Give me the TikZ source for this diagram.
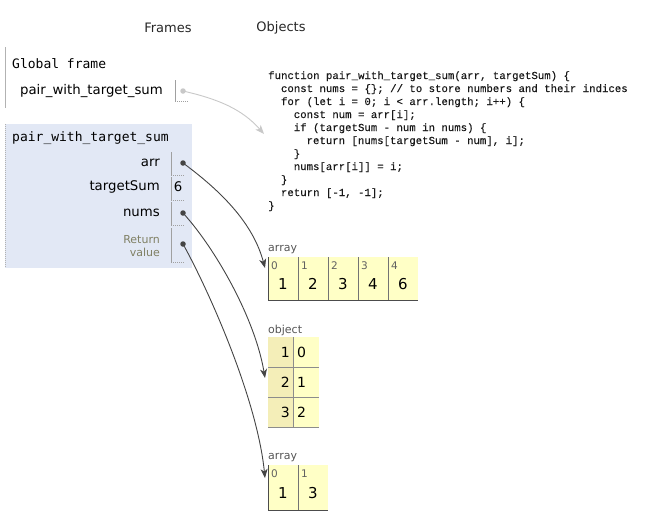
\documentclass[tikz,border=0pt]{standalone}
\usepackage{fontspec}
\setmainfont{DejaVu Sans}
\newfontfamily\framemono{DejaVu Sans Mono}
\newfontfamily\codefont[FakeBold=0.2]{Liberation Mono}
\usetikzlibrary{arrows.meta}
\definecolor{framebg}{RGB}{226,232,245}
\definecolor{heapbg}{RGB}{255,255,198}
\definecolor{keybg}{RGB}{244,238,184}
\definecolor{arrowcol}{RGB}{68,68,68}
\definecolor{lightarrow}{RGB}{200,200,200}
\definecolor{boxline}{RGB}{160,160,160}
\definecolor{retcol}{RGB}{128,128,100}
\definecolor{labelcol}{RGB}{85,85,85}
\definecolor{codecol}{RGB}{25,25,25}
\tikzset{
  hdr/.style={font=\fontsize{13}{15}\selectfont, text=black!85, inner sep=0pt},
  ftitle/.style={font=\framemono\fontsize{13}{15}\selectfont, anchor=west, inner sep=0pt},
  varname/.style={font=\fontsize{13.3}{15}\selectfont, anchor=east, inner sep=0pt},
  codeline/.style={font=\codefont\fontsize{10.7}{13}\selectfont, text=codecol, anchor=base west, inner sep=0pt},
  heaplabel/.style={font=\fontsize{11}{13}\selectfont, text=labelcol, anchor=west, inner sep=0pt},
  idx/.style={font=\fontsize{10.5}{12}\selectfont, text=black!62, anchor=west, inner sep=0pt},
  val/.style={font=\fontsize{15}{17}\selectfont, inner sep=0pt},
  objtxt/.style={font=\fontsize{14}{16}\selectfont, inner sep=0pt},
  ptr/.style={circle, fill=arrowcol, inner sep=0pt, minimum size=5.5pt},
  ptrlight/.style={circle, fill=lightarrow, inner sep=0pt, minimum size=5.5pt},
  conn/.style={draw=arrowcol, line width=0.9pt, -{Stealth[length=9pt,width=7pt,inset=2.5pt]}},
  connlight/.style={draw=lightarrow, line width=0.9pt, -{Stealth[length=9pt,width=7pt,inset=2.5pt]}},
  vbox/.style={draw=boxline, line width=0.8pt},
  vboxb/.style={draw=boxline, line width=0.8pt, dash pattern=on 1pt off 1pt},
  cell/.style={fill=heapbg, draw=none},
  celldiv/.style={draw=black!55, line width=0.8pt},
  celledge/.style={draw=black!70, line width=0.9pt},
}
\begin{document}
\begin{tikzpicture}[x=1pt,y=-1pt]
\useasboundingbox (0,0) rectangle (652,514);

% headers
\node[hdr] (hFrames) at (168,28) {Frames};
\node[hdr] (hObjects) at (281,28) {Objects};

% global frame
\draw[vbox, draw=black!30] (5,47) -- (5,108);
\node[ftitle] (gTitle) at (12,64) {Global frame};
\node[varname] (gVar) at (163,91) {pair\_with\_target\_sum};
\draw[vbox] (175,80) -- (175,101);
\draw[vboxb] (175,101) -- (188,101);
\node[ptrlight] (gDot) at (183,91) {};

% pair_with_target_sum frame
\fill[framebg] (5,124) rectangle (192,268);
\draw[draw=black!30, line width=0.8pt, dash pattern=on 1pt off 1pt] (5,124) -- (5,268);
\node[ftitle] (fTitle) at (12,138) {pair\_with\_target\_sum};

\node[varname] (vArr) at (160,163) {arr};
\draw[vbox] (171,152) -- (171,175);
\draw[vboxb] (171,175) -- (185,175);
\node[ptr] (dArr) at (183,163) {};

\node[varname] (vTarget) at (160,187) {targetSum};
\draw[vbox] (171,177) -- (171,200);
\draw[vboxb] (171,200) -- (185,200);
\node[font=\fontsize{13.3}{15}\selectfont, inner sep=0pt] (vSix) at (178,187) {6};

\node[varname] (vNums) at (160,213) {nums};
\draw[vbox] (171,202) -- (171,225);
\draw[vboxb] (171,225) -- (185,225);
\node[ptr] (dNums) at (183,213) {};

\node[varname, font=\fontsize{11}{13}\selectfont, text=retcol, align=right] (vRet) at (160,246) {Return\\value};
\draw[vbox] (171,228) -- (171,262);
\draw[vboxb] (171,262) -- (185,262);
\node[ptr] (dRet) at (183,244) {};

% code (function object)
\node[codeline] (c1) at (268,79) {function pair\_with\_target\_sum(arr, targetSum) \{};
\node[codeline] (c2) at (280.8,92) {const nums = \{\}; // to store numbers and their indices};
\node[codeline] (c3) at (280.8,105) {for (let i = 0; i < arr.length; i++) \{};
\node[codeline] (c4) at (293.6,118) {const num = arr[i];};
\node[codeline] (c5) at (293.6,131) {if (targetSum - num in nums) \{};
\node[codeline] (c6) at (306.4,144) {return [nums[targetSum - num], i];};
\node[codeline] (c7) at (293.6,157) {\}};
\node[codeline] (c8) at (293.6,170) {nums[arr[i]] = i;};
\node[codeline] (c9) at (280.8,183) {\}};
\node[codeline] (c10) at (280.8,196) {return [-1, -1];};
\node[codeline] (c11) at (268,209) {\}};

% array 1
\node[heaplabel] (lArr1) at (268,250) {array};
\fill[cell] (268,257) rectangle (418,300);
\foreach \i/\v in {0/1,1/2,2/3,3/4,4/6}{
  \draw[celldiv] ({268+30*\i},257) -- ({268+30*\i},300);
  \node[idx] (a1i\i) at ({271+30*\i},266) {\i};
  \node[val] (a1v\i) at ({283+30*\i},284) {\v};
}
\draw[celledge] (268,257) -- (268,300);
\draw[celledge] (268,300) -- (418,300);

% object
\node[heaplabel] (lObj) at (268,330) {object};
\fill[keybg] (268,337) rectangle (293,427);
\fill[heapbg] (293,337) rectangle (319,427);
\foreach \r/\k/\v in {0/1/0,1/2/1,2/3/2}{
  \node[objtxt, anchor=east] (ok\k) at (290,{352+30*\r}) {\k};
  \node[objtxt, anchor=west] (ov\k) at (297,{352+30*\r}) {\v};
}
\draw[celldiv, draw=black!45] (293,337) -- (293,427);
\draw[celldiv, draw=black!45] (268,367) -- (319,367);
\draw[celldiv, draw=black!45] (268,397) -- (319,397);
\draw[celldiv, draw=black!45] (268,427) -- (319,427);

% array 2
\node[heaplabel] (lArr2) at (268,458) {array};
\fill[cell] (268,465) rectangle (328,510);
\foreach \i/\v in {0/1,1/3}{
  \draw[celldiv] ({268+30*\i},465) -- ({268+30*\i},510);
  \node[idx] (a2i\i) at ({271+30*\i},474) {\i};
  \node[val] (a2v\i) at ({283+30*\i},493) {\v};
}
\draw[celledge] (268,465) -- (268,510);
\draw[celledge] (268,510) -- (328,510);

% connector targets
\coordinate (tFun) at (264,134);
\coordinate (tArr) at (265,268);
\coordinate (tNums) at (265,378);
\coordinate (tRet) at (265,478);

% connectors
\draw[connlight] (gDot.center) .. controls +(35,8) and +(-22,-25) .. (tFun);
\draw[conn] (dArr.center) .. controls +(38,28) and +(-12,-45) .. (tArr);
\draw[conn] (dNums.center) .. controls +(32,35) and +(-10,-60) .. (tNums);
\draw[conn] (dRet.center) .. controls +(25,45) and +(-8,-80) .. (tRet);
\end{tikzpicture}
\end{document}
